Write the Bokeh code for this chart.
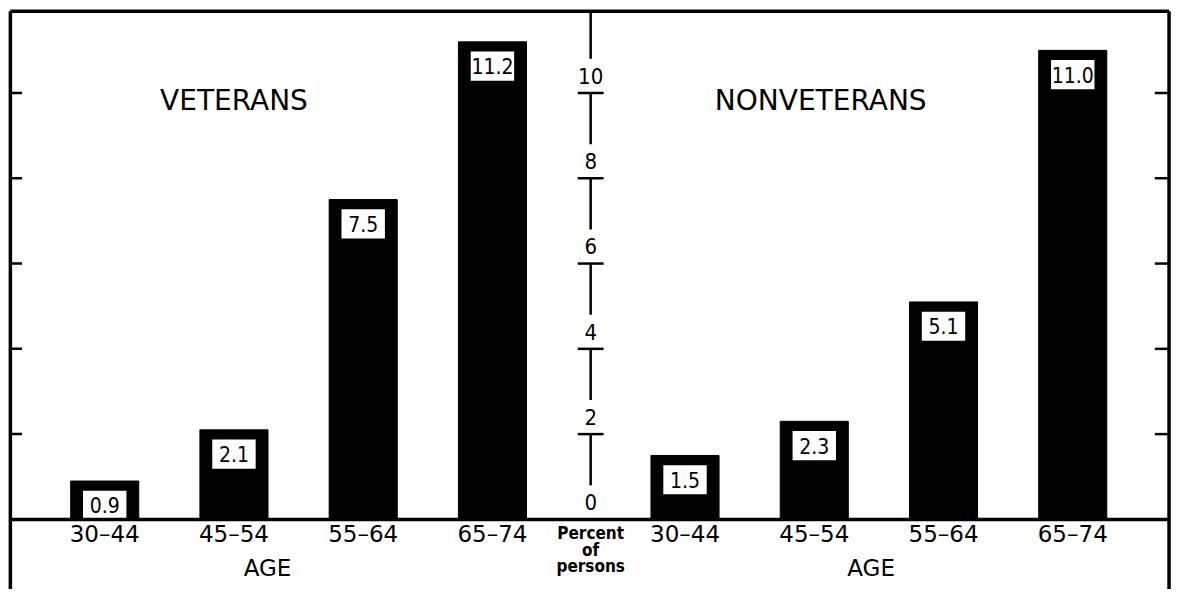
from bokeh.plotting import figure
from bokeh.models import Range1d, ColumnDataSource
from bokeh.core.properties import value
from bokeh.embed import file_html
from bokeh.resources import INLINE

# ---- data ----
age_groups = ["30–44", "45–54", "55–64", "65–74"]
veterans = [0.9, 2.1, 7.5, 11.2]
nonveterans = [1.5, 2.3, 5.1, 11.0]
vet_labels = ["0.9", "2.1", "7.5", "11.2"]
nonvet_labels = ["1.5", "2.3", "5.1", "11.0"]
y_ticks = [2, 4, 6, 8, 10]
y_tick_labels = ["2", "4", "6", "8", "10"]
panel_titles = ["VETERANS", "NONVETERANS"]
axis_title = ["Percent", "of", "persons"]

# ---- layout ----
W, H = 1178, 589
SX, SY = W / 1194, H / 605
PX_X = 131.0 * SX          # pixels per x unit
PX_Y = 43.8 * SY           # pixels per y unit
left_px = 10 * SX
base_px = 533 * SY
x0 = -left_px / PX_X
x1 = x0 + W / PX_X
y1 = base_px / PX_Y
y0 = y1 - H / PX_Y

left_pos = [0.73 + i for i in range(4)]
right_pos = [5.22 + i for i in range(4)]
axis_x = 4.49
right_edge = 8.965
top_edge = (533 - 11) / 43.8
bar_w = 69 / 131

p = figure(width=W, height=H, output_backend="svg", toolbar_location=None,
           x_range=Range1d(x0, x1), y_range=Range1d(y0, y1),
           min_border_left=0, min_border_right=0, min_border_top=0, min_border_bottom=0)
p.axis.visible = False
p.grid.visible = False
p.outline_line_color = None
p.background_fill_color = "white"
p.border_fill_color = "white"

FONT = value("DejaVu Sans")
FONT_C = value("DejaVu Sans Condensed")

# bars
for pos, vals, labs in [(left_pos, veterans, vet_labels), (right_pos, nonveterans, nonvet_labels)]:
    src = ColumnDataSource(dict(x=pos, top=vals, lab=labs,
                                ly=[v - 0.57 for v in vals]))
    p.vbar(x="x", top="top", bottom=0, width=bar_w, source=src,
           fill_color="black", line_color="black")
    p.rect(x="x", y="ly", width=44 / 131, height=30 / 43.8, source=src,
           fill_color="white", line_color=None)
    p.text(x="x", y="ly", text="lab", source=src, text_font=FONT_C,
           text_font_size="21px", text_align="center", text_baseline="middle",
           text_color="black")

# frame lines
p.segment(x0=[0.0, 0.0, right_edge], y0=[top_edge, y0, y0],
          x1=[right_edge, 0.0, right_edge], y1=[top_edge, top_edge, top_edge],
          line_color="black", line_width=3.5)
# baseline
p.segment(x0=[0.0], y0=[0.0], x1=[right_edge], y1=[0.0], line_color="black", line_width=3.5)

# border ticks (inward)
p.segment(x0=[0.0] * 5, y0=y_ticks, x1=[0.09] * 5, y1=y_ticks, line_color="black", line_width=2.5)
p.segment(x0=[right_edge - 0.11] * 5, y0=y_ticks, x1=[right_edge] * 5, y1=y_ticks,
          line_color="black", line_width=2.5)

# central axis: ticks, broken vertical line, labels
p.segment(x0=[axis_x - 0.1] * 5, y0=y_ticks, x1=[axis_x + 0.1] * 5, y1=y_ticks,
          line_color="black", line_width=2.5)
starts = [top_edge] + y_ticks[::-1]
ends = [t - 2 + 0.8 for t in [12] + y_ticks[::-1]]
p.segment(x0=[axis_x] * len(starts), y0=starts, x1=[axis_x] * len(starts), y1=ends,
          line_color="black", line_width=2.5)
p.text(x=[axis_x] * 6, y=[t + 0.4 for t in [0] + y_ticks], text=["0"] + y_tick_labels,
       text_font=FONT_C, text_font_size="22px", text_align="center", text_baseline="middle",
       text_color="black")

# panel titles
p.text(x=[1.73, 6.27], y=[9.82, 9.82], text=panel_titles, text_font=FONT,
       text_font_size="28px", text_align="center", text_baseline="middle", text_color="black")

# category labels
p.text(x=left_pos + right_pos, y=[-0.34] * 8, text=age_groups + age_groups, text_font=FONT,
       text_font_size="23px", text_align="center", text_baseline="middle", text_color="black")
p.text(x=[1.99, 6.66], y=[-1.14, -1.14], text=["AGE", "AGE"], text_font=FONT,
       text_font_size="23px", text_align="center", text_baseline="middle", text_color="black")
p.text(x=[axis_x] * 3, y=[-0.33, -0.72, -1.1], text=axis_title, text_font=FONT_C,
       text_font_size="17px", text_font_style="bold", text_align="center",
       text_baseline="middle", text_color="black")

open("out.html", "w").write(file_html(p, INLINE))
